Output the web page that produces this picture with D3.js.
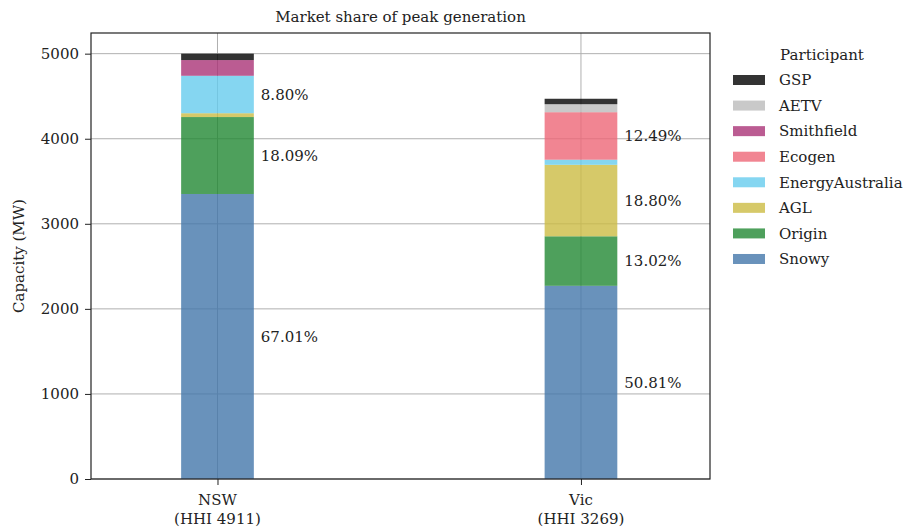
<!DOCTYPE html>
<html>
<head>
<meta charset="utf-8">
<script src="https://cdn.jsdelivr.net/npm/d3@7"></script>
<style>
  body { margin: 0; background: #fff; }
  text { font-family: "DejaVu Serif", serif; fill: #222; }
</style>
</head>
<body>
<svg id="chart" width="912" height="529"></svg>
<script>
// regions and their HHI (shown under each bar)
const regions = ["NSW", "Vic"];
const hhi = [4911, 3269];

// participants, stacked bottom to top
const participants = ["Snowy", "Origin", "AGL", "EnergyAustralia", "Ecogen", "Smithfield", "AETV", "GSP"];
const colors = ["#4477AA", "#228833", "#CCBB44", "#66CCEE", "#EE6677", "#AA3377", "#BBBBBB", "#000000"];

// peak capacity (MW) per participant, same order as participants
const nswValues = [3350.5, 904.5, 45, 440, 0, 185, 0, 75];
const vicValues = [2271, 582, 840.5, 60, 558.5, 0, 94, 64];

const yTicks = [0, 1000, 2000, 3000, 4000, 5000];

const svg = d3.select("#chart");
const plotL = 91, plotR = 710, plotT = 33, plotB = 479;

const x = d3.scaleLinear().domain([-0.348, 1.355]).range([plotL, plotR]);
const y = d3.scaleLinear().domain([0, 5243]).range([plotB, plotT]);
const barW = x(0.2) - x(0);

// gridlines
svg.append("g").selectAll("line").data(yTicks).join("line")
    .attr("x1", plotL).attr("x2", plotR)
    .attr("y1", d => y(d)).attr("y2", d => y(d))
    .attr("stroke", "#b0b0b0").attr("stroke-width", 1);
svg.append("g").selectAll("line").data(regions).join("line")
    .attr("x1", (d, i) => x(i)).attr("x2", (d, i) => x(i))
    .attr("y1", plotT).attr("y2", plotB)
    .attr("stroke", "#b0b0b0").attr("stroke-width", 1);

// stacked bars
const table = [nswValues, vicValues];
table.forEach((vals, i) => {
    const total = d3.sum(vals);
    let base = 0;
    vals.forEach((v, j) => {
        if (v > 0) {
            svg.append("rect")
                .attr("x", x(i) - barW / 2)
                .attr("width", barW)
                .attr("y", y(base + v))
                .attr("height", y(base) - y(base + v))
                .attr("fill", colors[j])
                .attr("fill-opacity", 0.8);
            const share = v / total * 100;
            if (share > 5) {
                svg.append("text")
                    .attr("x", x(i) + barW / 2 + 7)
                    .attr("y", y(base + v / 2))
                    .attr("dy", "0.35em")
                    .attr("font-size", 15)
                    .text(share.toFixed(2) + "%");
            }
        }
        base += v;
    });
});

// axes
const yAxis = svg.append("g")
    .attr("transform", `translate(${plotL},0)`)
    .call(d3.axisLeft(y).tickValues(yTicks).tickFormat(d3.format("d")).tickSize(6).tickPadding(6));
const xAxis = svg.append("g")
    .attr("transform", `translate(0,${plotB})`)
    .call(d3.axisBottom(x).tickValues([0, 1]).tickSize(6).tickFormat(() => ""));
[yAxis, xAxis].forEach(a => {
    a.select(".domain").remove();
    a.selectAll("line").attr("stroke", "#222");
    a.selectAll("text").attr("font-family", "DejaVu Serif").attr("font-size", 15).attr("fill", "#222");
});

regions.forEach((r, i) => {
    const t = svg.append("text")
        .attr("x", x(i)).attr("y", plotB + 26)
        .attr("text-anchor", "middle").attr("font-size", 15);
    t.append("tspan").attr("x", x(i)).text(r);
    t.append("tspan").attr("x", x(i)).attr("dy", 19).text(`(HHI ${hhi[i]})`);
});

// frame
svg.append("rect")
    .attr("x", plotL).attr("y", plotT)
    .attr("width", plotR - plotL).attr("height", plotB - plotT)
    .attr("fill", "none").attr("stroke", "#222").attr("stroke-width", 1.2);

// title and y label
svg.append("text")
    .attr("x", (plotL + plotR) / 2).attr("y", 22)
    .attr("text-anchor", "middle").attr("font-size", 15)
    .text("Market share of peak generation");
svg.append("text")
    .attr("transform", `translate(24,${(plotT + plotB) / 2}) rotate(-90)`)
    .attr("text-anchor", "middle").attr("font-size", 15)
    .text("Capacity (MW)");

// legend, top entry is the last stacked participant
const legend = svg.append("g");
legend.append("text")
    .attr("x", 822).attr("y", 60)
    .attr("text-anchor", "middle").attr("font-size", 15)
    .text("Participant");
const order = participants.slice().reverse();
order.forEach((p, k) => {
    const j = participants.indexOf(p);
    const cy = 80 + k * 25.57;
    legend.append("rect")
        .attr("x", 733).attr("y", cy - 5)
        .attr("width", 32).attr("height", 10)
        .attr("fill", colors[j]).attr("fill-opacity", 0.8);
    legend.append("text")
        .attr("x", 779).attr("y", cy)
        .attr("dy", "0.35em").attr("font-size", 15)
        .text(p);
});
</script>
</body>
</html>
